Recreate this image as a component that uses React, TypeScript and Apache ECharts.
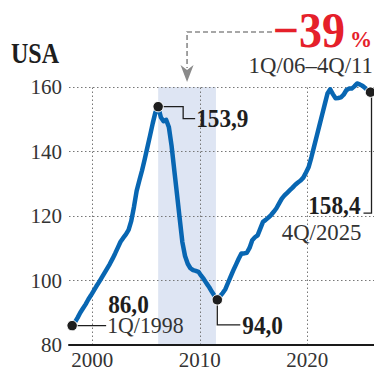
import React, { useEffect, useRef } from "react";
import * as echarts from "echarts";

// Quarterly index, 1Q/1998 … 4Q/2025
const START_YEAR = 1998;
const values = [
  86.0, 87.0, 88.4, 90.0, 91.3, 92.6, 94.1, 95.4, 96.8, 98.2,
  99.5, 100.9, 102.3, 103.7, 105.1, 106.7, 108.4, 110.2, 112.0, 113.2,
  114.3, 115.7, 118.5, 122.8, 127.8, 131.0, 134.1, 137.6, 141.3, 145.0,
  148.8, 152.2, 153.9, 150.6, 149.4, 149.8, 147.5, 141.7, 134.2, 126.8,
  119.3, 111.9, 107.6, 105.2, 103.8, 103.2, 103.0, 102.7, 101.5, 100.4,
  99.1, 97.9, 96.5, 95.2, 94.0, 95.1, 96.1, 97.3, 99.3, 101.3,
  103.2, 105.0, 106.8, 108.4, 108.4, 108.6, 110.1, 112.5, 113.4, 114.0,
  116.1, 118.2, 118.8, 119.5, 120.3, 121.3, 122.4, 123.9, 125.4, 126.4,
  127.2, 128.0, 128.8, 129.7, 130.4, 131.0, 131.9, 133.5, 135.2, 138.2,
  141.5, 144.8, 148.1, 151.4, 154.7, 158.0, 159.3, 157.8, 156.5, 156.6,
  156.8, 157.6, 159.0, 159.5, 159.5, 160.2, 161.1, 160.8, 160.4, 159.7, 158.9, 158.4,
];
const xTickLabels = [2000, 2010, 2020];
const yTickMin = 80;
const yTickMax = 160;
const yTickStep = 20;
const band = [2006.125, 2011.5];
const peakIndex = 32;
const troughIndex = 54;
const changeLabel = "−39";
const changePeriod = "1Q/06–4Q/11";
const startLabel = ["86,0", "1Q/1998"];
const peakLabel = "153,9";
const troughLabel = "94,0";
const endLabel = ["158,4", "4Q/2025"];
const title = "USA";

const SERIF = '"Liberation Serif", "DejaVu Serif", serif';
const BLUE = "#0866b2";
const INK = "#1e1e1e";
const GREY = "#333";

export default function App() {
  const ref = useRef<HTMLDivElement>(null);
  useEffect(() => {
    const chart = echarts.init(ref.current!, null, { renderer: "svg" });
    const data = values.map((v, i) => [START_YEAR + 0.125 + i / 4, v]);
    chart.setOption({
      animation: false,
      grid: { left: 69, right: 0, top: 87, bottom: 22.3 },
      xAxis: {
        type: "value",
        min: 1997.833,
        max: 2026.2,
        z: 4,
        axisLine: { show: true, lineStyle: { color: "#1a1a1a", width: 2 } },
        axisTick: { show: false },
        splitLine: { show: false },
        axisLabel: {
          customValues: xTickLabels,
          fontFamily: SERIF,
          fontSize: 21,
          color: GREY,
          margin: 4,
          formatter: (v: number) => String(v),
        },
      },
      yAxis: {
        type: "value",
        min: yTickMin,
        max: yTickMax,
        interval: yTickStep,
        z: 2,
        axisLine: { show: false },
        axisTick: { show: false },
        axisLabel: { fontFamily: SERIF, fontSize: 21, color: GREY, margin: 7 },
        splitLine: { show: true, lineStyle: { color: "#777", width: 1, type: [1.5, 2.5] } },
      },
      series: [
        {
          type: "line",
          data: [],
          z: 1,
          silent: true,
          markArea: {
            silent: true,
            z: 1,
            itemStyle: { color: "#dee5f3" },
            data: [[{ xAxis: band[0] }, { xAxis: band[1] }]],
          },
          markLine: {
            silent: true,
            z: 2,
            symbol: "none",
            label: { show: false },
            lineStyle: { color: "#777", width: 1, type: [1.5, 2.5] },
            data: xTickLabels.map((x) => ({ xAxis: x })),
          },
        },
        {
          type: "line",
          data,
          z: 5,
          clip: false,
          showSymbol: false,
          symbol: "none",
          lineStyle: { color: BLUE, width: 4.5, join: "round", cap: "round" },
        },
      ],
    });

    const px = (d: number[]) => chart.convertToPixel({ gridIndex: 0 }, d) as number[];
    const p0 = px(data[0]);
    const pPeak = px(data[peakIndex]);
    const pMin = px(data[troughIndex]);
    const pEnd = px(data[data.length - 1]);
    const bandMid = px([(band[0] + band[1]) / 2, yTickMax]);

    const txt = (
      x: number,
      y: number,
      text: string,
      size: number,
      opts: { bold?: boolean; align?: string; color?: string; sx?: number } = {}
    ) => ({
      type: "text",
      x,
      y,
      scaleX: opts.sx ?? 0.93,
      z: 20,
      style: {
        text,
        font: `${opts.bold ? "bold " : ""}${size}px ${SERIF}`,
        fill: opts.color ?? INK,
        align: opts.align ?? "left",
        verticalAlign: "middle",
        textAlign: opts.align ?? "left",
        textVerticalAlign: "middle",
      },
    });
    const pl = (points: number[][], color = INK, width = 1.3, dash?: number[]) => ({
      type: "polyline",
      z: 15,
      shape: { points },
      style: { stroke: color, lineWidth: width, fill: null, lineDash: dash },
    });
    const dot = (p: number[]) => ({
      type: "circle",
      z: 18,
      shape: { cx: p[0], cy: p[1], r: 5.2 },
      style: { fill: INK, stroke: "#fff", lineWidth: 1 },
    });

    const ax = bandMid[0];
    chart.setOption({
      graphic: [
        txt(11, 53, title, 30, { bold: true, sx: 0.8 }),
        // change annotation
        pl([[272, 32], [ax, 32], [ax, 68]], "#8a8a8a", 1.6, [5, 3]),
        {
          type: "polygon",
          z: 15,
          shape: { points: [[ax - 6.5, 65], [ax, 70], [ax + 6.5, 65], [ax, 82]] },
          style: { fill: "#8a8a8a" },
        },
        txt(345, 30, changeLabel, 50, { bold: true, align: "right", color: "#e5202a", sx: 0.92 }),
        txt(350, 39, "%", 24, { bold: true, color: "#e5202a", sx: 0.92 }),
        txt(373, 65, changePeriod, 24, { align: "right", color: GREY, sx: 0.95 }),
        // start
        pl([[p0[0], p0[1]], [p0[0] + 34, p0[1]]]),
        dot(p0),
        txt(p0[0] + 36, p0[1] - 21, startLabel[0], 25, { bold: true }),
        txt(p0[0] + 35, p0[1], startLabel[1], 23, { color: GREY, sx: 0.95 }),
        // peak
        pl([[pPeak[0], pPeak[1]], [pPeak[0] + 25, pPeak[1]], [pPeak[0] + 25, pPeak[1] + 12], [pPeak[0] + 37, pPeak[1] + 12]]),
        dot(pPeak),
        txt(pPeak[0] + 38, pPeak[1] + 12, peakLabel, 25, { bold: true }),
        // trough
        pl([[pMin[0], pMin[1]], [pMin[0], pMin[1] + 25], [pMin[0] + 23, pMin[1] + 25]]),
        dot(pMin),
        txt(pMin[0] + 25, pMin[1] + 25, troughLabel, 25, { bold: true }),
        // end
        pl([[pEnd[0] + 1, pEnd[1]], [pEnd[0] + 1, pEnd[1] + 121], [pEnd[0] - 7, pEnd[1] + 121]]),
        dot(pEnd),
        txt(pEnd[0] - 10, pEnd[1] + 113, endLabel[0], 25, { bold: true, align: "right" }),
        txt(pEnd[0] - 9, pEnd[1] + 140, endLabel[1], 24, { align: "right", color: GREY, sx: 0.95 }),
      ],
    });
    return () => chart.dispose();
  }, []);
  return (
    <div
      ref={ref}
      style={{ position: "fixed", left: 0, top: 0, width: 374, height: 370, background: "#fff" }}
    />
  );
}
